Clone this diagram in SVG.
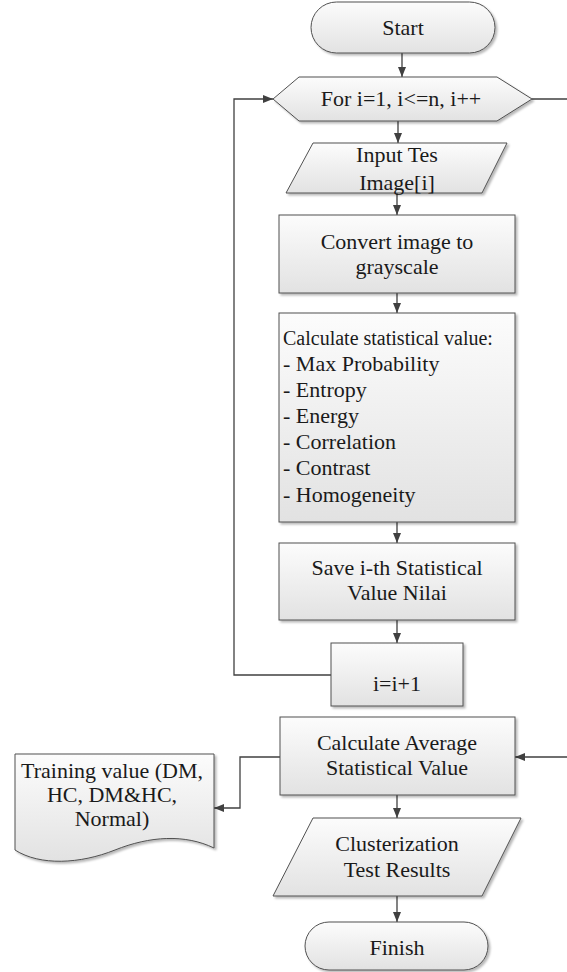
<svg xmlns="http://www.w3.org/2000/svg" width="567" height="972" viewBox="0 0 567 972">
<defs>
<linearGradient id="g" x1="0" y1="0" x2="0" y2="1">
<stop offset="0" stop-color="#fcfcfc"/>
<stop offset="1" stop-color="#e2e2e2"/>
</linearGradient>
<filter id="sh" x="-10%" y="-10%" width="130%" height="130%">
<feDropShadow dx="2" dy="2" stdDeviation="1.2" flood-color="#000" flood-opacity="0.28"/>
</filter>
<marker id="ah" viewBox="0 0 10 8" refX="10" refY="4" markerWidth="10" markerHeight="8" markerUnits="userSpaceOnUse" orient="auto">
<path d="M0,0 L10,4 L0,8 Z" fill="#404040"/>
</marker>
</defs>
<style>
.s{fill:url(#g);stroke:#505050;stroke-width:1;filter:url(#sh)}
text{font-family:'Liberation Serif','DejaVu Serif',serif;font-size:22px;fill:#1a1a1a}
.t{text-anchor:middle}
.l{text-anchor:start}
.c{fill:none;stroke:#404040;stroke-width:1.3;marker-end:url(#ah)}
</style>
<rect width="567" height="972" fill="#ffffff"/>

<g id="connectors">
<path class="c" d="M402,53 V77"/>
<path class="c" d="M398,121 V143"/>
<path class="c" d="M397,193 V215"/>
<path class="c" d="M397,293 V313"/>
<path class="c" d="M397,522 V543"/>
<path class="c" d="M397,620 V643"/>
<path class="c" d="M331,675 H234 V99 H273"/>
<path class="c" d="M532,99 H570 V757 H515"/>
<path class="c" d="M280,757 H240 V808 H214"/>
<path class="c" d="M397,795 V818"/>
<path class="c" d="M397,896 V922"/>
</g>

<g id="start" font-family="Liberation Serif, serif">
<rect class="s" x="311" y="2" width="184" height="51" rx="25.5" ry="25.5"/>
<text class="t" x="403" y="35">Start</text>
</g>

<g id="for">
<polygon class="s" points="273,99 299,77 497,77 532,99 497,121 299,121"/>
<text class="t" x="401" y="106">For i=1, i&lt;=n, i++</text>
</g>

<g id="input">
<polygon class="s" points="313,143 507,143 482,193 286,193"/>
<text class="t" x="397" y="162">Input Tes</text>
<text class="t" x="397" y="190">Image[i]</text>
</g>

<g id="convert">
<rect class="s" x="279" y="215" width="236" height="78"/>
<text class="t" x="397" y="249">Convert image to</text>
<text class="t" x="397" y="274">grayscale</text>
</g>

<g id="calc">
<rect class="s" x="279" y="313" width="236" height="209"/>
<text class="l" x="283" y="345" style="font-size:20px">Calculate statistical value:</text>
<text class="l" x="283" y="371">- Max Probability</text>
<text class="l" x="283" y="397">- Entropy</text>
<text class="l" x="283" y="423">- Energy</text>
<text class="l" x="283" y="449">- Correlation</text>
<text class="l" x="283" y="475">- Contrast</text>
<text class="l" x="283" y="502">- Homogeneity</text>
</g>

<g id="save">
<rect class="s" x="279" y="543" width="236" height="77"/>
<text class="t" x="397" y="575">Save i-th Statistical</text>
<text class="t" x="397" y="600">Value Nilai</text>
</g>

<g id="inc">
<rect class="s" x="331" y="643" width="132" height="63"/>
<text class="t" x="397" y="691">i=i+1</text>
</g>

<g id="average">
<rect class="s" x="280" y="717" width="235" height="78"/>
<text class="t" x="397" y="750">Calculate Average</text>
<text class="t" x="397" y="775">Statistical Value</text>
</g>

<g id="training">
<path class="s" d="M15,754 H214 V848 C185,834 150,836 115,850 C80,864 40,866 15,850 Z"/>
<text class="t" x="112" y="778">Training value (DM,</text>
<text class="t" x="112" y="802">HC, DM&amp;HC,</text>
<text class="t" x="112" y="826">Normal)</text>
</g>

<g id="cluster">
<polygon class="s" points="313,818 521,818 482,896 273,896"/>
<text class="t" x="397" y="851">Clusterization</text>
<text class="t" x="397" y="877">Test Results</text>
</g>

<g id="finish">
<rect class="s" x="305" y="922" width="183" height="48" rx="24" ry="24"/>
<text class="t" x="397" y="955">Finish</text>
</g>
</svg>
